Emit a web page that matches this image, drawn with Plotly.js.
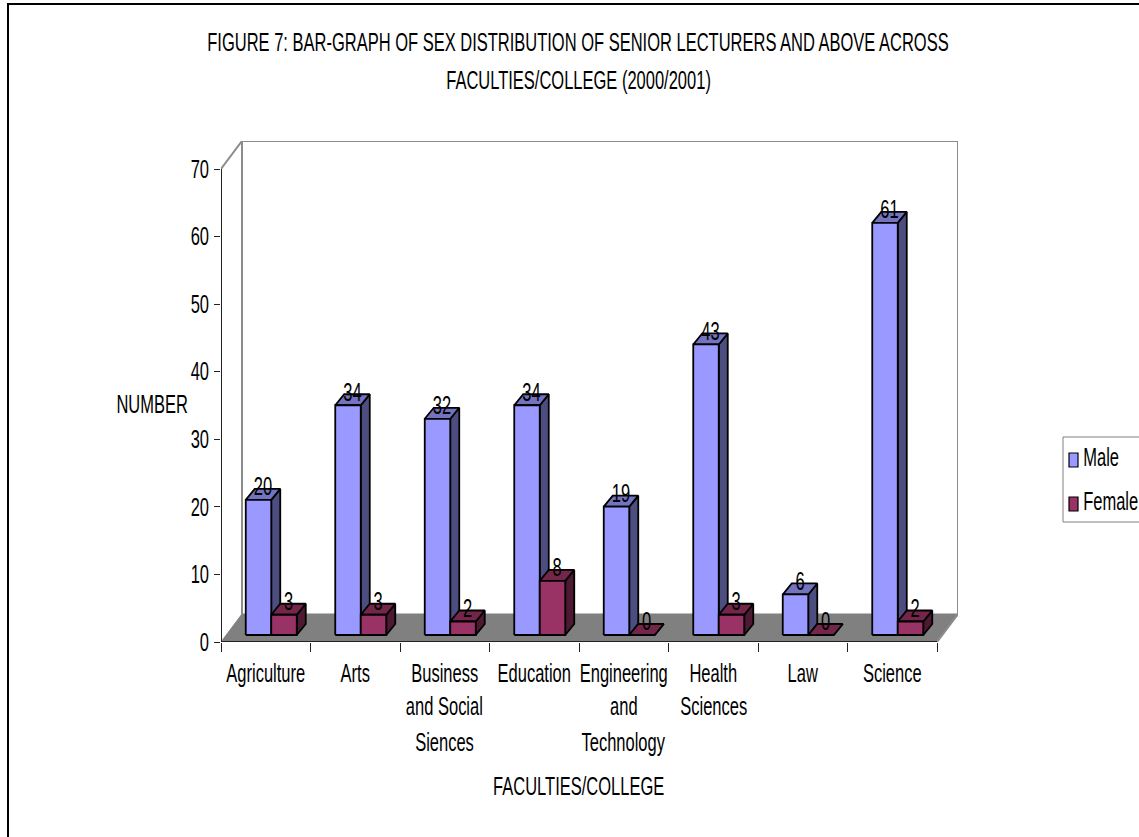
<!DOCTYPE html>
<html>
<head>
<meta charset="utf-8">
<script src="https://cdn.plot.ly/plotly-3.0.1.min.js"></script>
<style>html,body{margin:0;padding:0;background:#fff;overflow:hidden}</style>
</head>
<body>
<div id="chart" style="width:1139px;height:837px"></div>
<script>
// Senior lecturers and above, by sex and faculty
const catRow1 = ["Agriculture", "Arts", "Business", "Education", "Engineering", "Health", "Law", "Science"];
const catRow2 = ["", "", "and Social", "", "and", "Sciences", "", ""];
const catRow3 = ["", "", "Siences", "", "Technology", "", "", ""];
const maleValues = [20, 34, 32, 34, 19, 43, 6, 61];
const femaleValues = [3, 3, 2, 8, 0, 3, 0, 2];
const yTicks = [0, 10, 20, 30, 40, 50, 60, 70];

const FONT = '"Liberation Sans", Arial, sans-serif';
const FONT_SIZE = 25;
const TEXT_SQUEEZE = 0.66;   // tall, condensed lettering
const W = 1139, H = 837;
const plot = {l: 221, t: 141, r: 958, b: 642};
const xUnit = 89.5, yUnit = 6.757;
const wallDx = (plot.r - plot.l) / xUnit - 8;      // category units of box depth
const wallDy = (plot.b - plot.t) / yUnit - 70;     // value units of box depth
const barDx = 9 / xUnit, barDy = 11 / yUnit;       // depth of one bar
const baseDx = 5.5 / xUnit, baseDy = 7 / yUnit;    // bars stand a little way into the floor
const barWidth = 25.5 / xUnit;

const colors = {
  male: {front: '#9999ff', side: '#4d4d80', top: '#7373bf'},
  female: {front: '#993366', side: '#4d1933', top: '#732649'}
};

function poly(xs, ys, fill, lineColor, lineWidth) {
  return {
    type: 'scatter', mode: 'lines', x: xs, y: ys, fill: 'toself', fillcolor: fill,
    line: {color: lineColor, width: lineWidth}, hoverinfo: 'skip', showlegend: false, cliponaxis: false
  };
}
function path(xs, ys, color, width) {
  return {
    type: 'scatter', mode: 'lines', x: xs, y: ys, line: {color: color, width: width},
    hoverinfo: 'skip', showlegend: false, cliponaxis: false
  };
}

// One bar as three faces: side, top, then front
function barFaces(x0, value, c) {
  const x1 = x0 + barWidth, y0 = baseDy, y1 = baseDy + value;
  return [
    poly([x1, x1 + barDx, x1 + barDx, x1, x1], [y0, y0 + barDy, y1 + barDy, y1, y0], c.side, '#000', 1.8),
    poly([x0, x0 + barDx, x1 + barDx, x1, x0], [y1, y1 + barDy, y1 + barDy, y1, y1], c.top, '#000', 1.8),
    poly([x0, x1, x1, x0, x0], [y0, y0, y1, y1, y0], c.front, '#000', 1.8)
  ];
}

const traces = [
  // floor and the grey edges of the box
  poly([0, 8, 8 + wallDx, wallDx, 0], [0, 0, wallDy, wallDy, 0], '#808080', '#808080', 1),
  path([0, wallDx, 8 + wallDx, 8 + wallDx, 8], [70, 70 + wallDy, 70 + wallDy, wallDy, 0], '#8c8c8c', 2),
  path([wallDx, wallDx], [wallDy, 70 + wallDy], '#8c8c8c', 2),
  // front axis lines
  path([0, 0, 8], [70, 0, 0], '#222', 2)
];

const labelX = {male: [], female: []}, labelY = {male: [], female: []};
catRow1.forEach(function (_, i) {
  const start = i + 0.5 + baseDx - barWidth;
  traces.push.apply(traces, barFaces(start, maleValues[i], colors.male));
  traces.push.apply(traces, barFaces(start + barWidth, femaleValues[i], colors.female));
  labelX.male.push(start + (barWidth + barDx) / 2);
  labelY.male.push(baseDy + maleValues[i] + barDy);
  labelX.female.push(start + barWidth + (barWidth + barDx) / 2);
  labelY.female.push(baseDy + femaleValues[i] + barDy);
});

// value labels sit on the back edge of each bar top
[['male', maleValues], ['female', femaleValues]].forEach(function (s) {
  traces.push({
    type: 'scatter', mode: 'text', x: labelX[s[0]], y: labelY[s[0]],
    text: s[1].map(String), textposition: 'middle center',
    textfont: {family: FONT, size: FONT_SIZE, color: '#000'},
    hoverinfo: 'skip', showlegend: false, cliponaxis: false
  });
});

const pxX = function (px) { return (px - plot.l) / (plot.r - plot.l); };
const pxY = function (py) { return (plot.b - py) / (plot.b - plot.t); };
const pageText = function (text, x, y) {
  return {
    text: text, xref: 'paper', yref: 'paper', x: pxX(x), y: pxY(y), showarrow: false,
    xanchor: 'center', yanchor: 'middle', font: {family: FONT, size: FONT_SIZE, color: '#000'}
  };
};

const annotations = [
  pageText('FACULTIES/COLLEGE', 578, 786),
  pageText('NUMBER', 152, 404),
  pageText('FACULTIES/COLLEGE (2000/2001)', 578, 80),
  // legend rows are laid out by hand so the swatches stay small
  pageText('Male', 1101, 457),
  pageText('Female', 1110, 501)
];
[[catRow2, 706], [catRow3, 742]].forEach(function (row) {
  row[0].forEach(function (t, i) {
    if (t) annotations.push({
      text: t, xref: 'x', yref: 'paper', x: i + 0.5, y: pxY(row[1]), showarrow: false,
      xanchor: 'center', yanchor: 'middle', font: {family: FONT, size: FONT_SIZE, color: '#000'}
    });
  });
});

const rectShape = function (x0, y0, x1, y1, fill, line, width) {
  return {
    type: 'rect', xref: 'paper', yref: 'paper', x0: pxX(x0), x1: pxX(x1), y0: pxY(y0), y1: pxY(y1),
    fillcolor: fill, line: {color: line, width: width}, layer: 'below'
  };
};

const layout = {
  width: W, height: H, paper_bgcolor: '#fff', plot_bgcolor: '#fff', showlegend: false,
  margin: {l: plot.l, r: W - plot.r, t: plot.t, b: H - plot.b, pad: 0, autoexpand: false},
  title: {
    text: 'FIGURE 7: BAR-GRAPH OF SEX DISTRIBUTION OF SENIOR LECTURERS AND ABOVE ACROSS',
    font: {family: FONT, size: FONT_SIZE, color: '#000'},
    x: 578 / W, xanchor: 'center', y: 1 - 42 / H, yanchor: 'middle'
  },
  xaxis: {
    range: [0, 8 + wallDx], tickmode: 'array', tickvals: catRow1.map(function (_, i) { return i + 0.5; }),
    ticktext: catRow1, ticks: '', tickangle: 0, showgrid: false, zeroline: false, showline: false, ticklabelstandoff: 14,
    tickfont: {family: FONT, size: FONT_SIZE, color: '#000'},
    minor: {tickmode: 'array', tickvals: [0, 1, 2, 3, 4, 5, 6, 7, 8], ticks: 'outside', ticklen: 9, tickwidth: 1, tickcolor: '#222', showgrid: false}
  },
  yaxis: {
    range: [0, 70 + wallDy], tickmode: 'array', tickvals: yTicks, ticktext: yTicks.map(String),
    ticks: 'outside', ticklen: 6, tickwidth: 1, tickcolor: '#222', showgrid: false, zeroline: false, showline: false,
    tickfont: {family: FONT, size: FONT_SIZE, color: '#000'}
  },
  annotations: annotations,
  shapes: [
    rectShape(8, 4, 1160, 860, 'rgba(0,0,0,0)', '#000', 2),
    rectShape(1063, 437, 1160, 522, '#fff', '#808080', 1),
    rectShape(1069, 453, 1078, 467, colors.male.front, '#000', 1.2),
    rectShape(1069, 497, 1078, 511, colors.female.front, '#000', 1.2)
  ]
};

// Condense every text element horizontally about its own anchor point
function condenseText() {
  document.querySelectorAll('#chart svg text').forEach(function (el) {
    const x = parseFloat(el.getAttribute('x')) || 0;
    const prior = el.getAttribute('transform') || '';
    el.setAttribute('transform', prior + ' translate(' + x + ' 0) scale(' + TEXT_SQUEEZE + ' 1) translate(' + (-x) + ' 0)');
  });
}

Plotly.newPlot('chart', traces, layout, {displayModeBar: false, responsive: false}).then(condenseText);
</script>
</body>
</html>
